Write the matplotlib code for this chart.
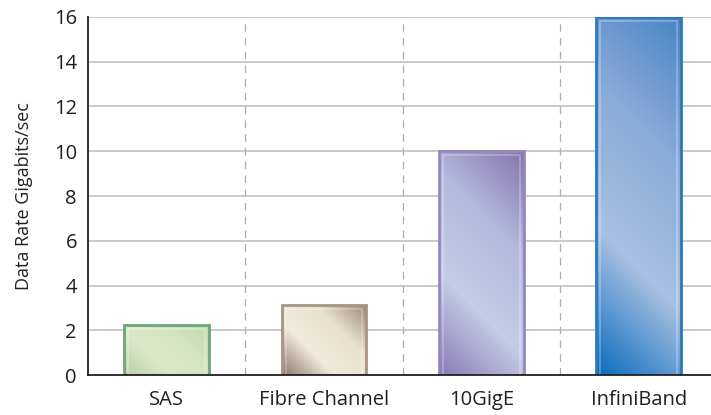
import numpy as np
import matplotlib
matplotlib.use("Agg")
import matplotlib.pyplot as plt
from matplotlib.colors import LinearSegmentedColormap
from matplotlib.patches import Rectangle

categories = ["SAS", "Fibre Channel", "10GigE", "InfiniBand"]
values = [2.25, 3.15, 10.0, 16.0]
y_ticks = [0, 2, 4, 6, 8, 10, 12, 14, 16]
y_label = "Data Rate Gigabits/sec"

grad_colors = [
    ["#b6d2a6", "#dce8c8", "#d4e4c0", "#c2dab2"],
    ["#8c7868", "#efeada", "#e8e2cc", "#9a8676"],
    ["#8a7ab6", "#c4cce6", "#b4b8dc", "#8474ac"],
    ["#0a6cbc", "#a8c0e2", "#8aaad8", "#4884c4"],
]
edge_colors = ["#6aa67c", "#a89482", "#9686c0", "#2a78c0"]

plt.rcParams['font.family'] = ['Open Sans', 'DejaVu Sans']

fig = plt.figure(figsize=(7.11, 4.15), dpi=100)
ax = fig.add_axes([88/711, 40/415, 1 - 88/711, 358/415])

x = np.arange(len(categories))
width = 0.54
ax.set_xlim(-0.5, 3.46)
ax.set_ylim(0, 16)

px_per_x = (711 - 88) / (3.46 + 0.5)
px_per_y = 358 / 16.0

for i, (xi, v) in enumerate(zip(x, values)):
    cmap = LinearSegmentedColormap.from_list("g%d" % i, grad_colors[i])
    wpx = width * px_per_x
    hpx = v * px_per_y
    nx, ny = 100, max(int(hpx), 10)
    u = np.linspace(0, 1, nx)[None, :] * wpx
    vv = np.linspace(0, 1, ny)[:, None] * hpx
    t = (u + vv) / (wpx + hpx)
    x0, x1 = xi - width / 2, xi + width / 2
    im = ax.imshow(t, cmap=cmap, origin="lower", extent=[x0, x1, 0, v],
                   aspect="auto", zorder=2, interpolation="bilinear")
    rect = Rectangle((x0, 0), width, v, facecolor="none",
                     edgecolor=edge_colors[i], linewidth=2.0, zorder=3)
    ax.add_patch(rect)
    im.set_clip_path(rect)
    ix = 4 / px_per_x
    iy = 4 / px_per_y
    inner = Rectangle((x0 + ix, 0), width - 2 * ix, v - iy, facecolor="none",
                      edgecolor="white", alpha=0.3, linewidth=1.2, zorder=3)
    ax.add_patch(inner)

ax.set_aspect("auto")
ax.set_xlim(-0.5, 3.46)
ax.set_ylim(0, 16)

ax.set_yticks(y_ticks)
ax.set_yticklabels([str(t) for t in y_ticks], fontsize=14.5, color="#231f20")
ax.set_xticks(x)
ax.set_xticklabels(categories, fontsize=14.5, color="#231f20")
ax.set_xticks([0.5, 1.5, 2.5], minor=True)
ax.tick_params(axis="both", which="both", length=0)
ax.tick_params(axis="x", pad=11)
ax.tick_params(axis="y", pad=8)

ax.grid(axis="y", which="major", color="#b9bcbf", linewidth=1.1, zorder=0)
ax.grid(axis="x", which="minor", color="#a9adb1", linewidth=0.9,
        linestyle=(0, (6, 5)), zorder=0)
ax.set_axisbelow(True)

for s in ["top", "right"]:
    ax.spines[s].set_visible(False)
for s in ["left", "bottom"]:
    ax.spines[s].set_color("#231f20")
    ax.spines[s].set_linewidth(1.3)
    ax.spines[s].set_zorder(5)

ax.set_ylabel(y_label, fontsize=13, color="#231f20", labelpad=15)

fig.savefig("out.png", dpi=100)
